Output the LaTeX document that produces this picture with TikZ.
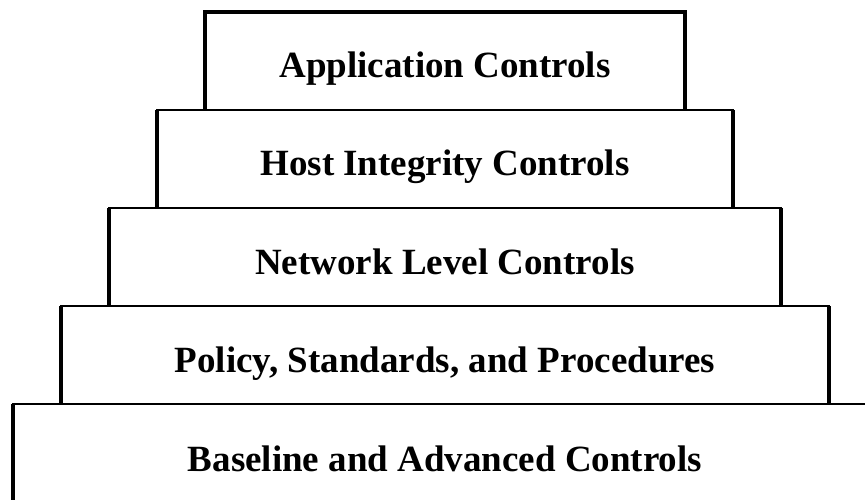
\documentclass[tikz,border=0pt]{standalone}
\usepackage{fontspec}
\setmainfont{Liberation Serif}
\usetikzlibrary{positioning}

\begin{document}
\begin{tikzpicture}[
    every node/.style={
    draw, line width=2.5pt, outer sep=0pt, inner sep=0pt,
    minimum height=98pt, text height=34pt, text depth=0pt,
    font=\fontsize{37}{44}\selectfont\bfseries},
    side/.style={line width=4.5pt}
    ]

    \clip (-445pt,61pt) rectangle (420pt,-439pt);

    \node[minimum width=480pt](app){Application Controls};
    \node[below= 0pt of app, minimum width=576pt](host){Host Integrity Controls};
    \node[below= 0pt of host, minimum width=672pt](network){Network Level Controls};
    \node[below= 0pt of network, minimum width=768pt](policy){Policy, Standards, and Procedures};
    \node[below= 0pt of policy, minimum width=864pt,
    minimum height=100pt](baseline){Baseline and Advanced Controls};

    % heavier sides on every tier
    \draw[side] (app.south west) |- (app.north east) -- (app.south east);
    \foreach \tier in {host,network,policy,baseline}
      \draw[side] (\tier.north west) -- (\tier.south west)
                  (\tier.north east) -- (\tier.south east);
\end{tikzpicture}
\end{document}
